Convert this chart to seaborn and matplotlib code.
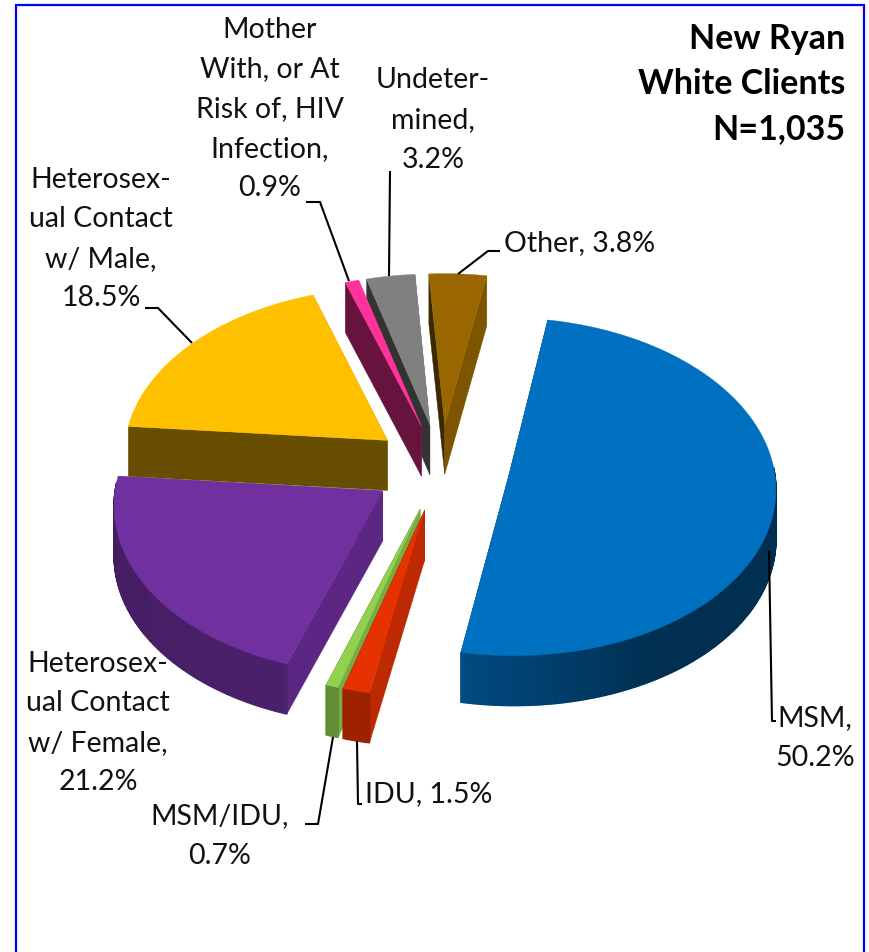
import numpy as np
import matplotlib
matplotlib.use('Agg')
import matplotlib.pyplot as plt
import seaborn as sns
from matplotlib.colors import to_rgb

# Values
categories = ['MSM', 'IDU', 'MSM/IDU', 'Heterosexual Contact w/ Female',
              'Heterosexual Contact w/ Male', 'Mother With, or At Risk of, HIV Infection',
              'Undetermined', 'Other']
percents = [50.2, 1.5, 0.7, 21.2, 18.5, 0.9, 3.2, 3.8]
label_text = ['MSM,\n50.2%', 'IDU, 1.5%', 'MSM/IDU,\n0.7%',
              'Heterosex-\nual Contact\nw/ Female,\n21.2%',
              'Heterosex-\nual Contact\nw/ Male,\n18.5%',
              'Mother\nWith, or At\nRisk of, HIV\nInfection,\n0.9%',
              'Undeter-\nmined,\n3.2%', 'Other, 3.8%']
title_text = 'New Ryan\nWhite Clients\nN=1,035'
colors = ['#0070C0', '#E63200', '#92D050', '#7030A0', '#FFC000', '#FF3399', '#808080', '#996600']

# Pie geometry (pixels)
first_angle = 10.0
cx, cy = 441, 468
rad_x, rad_y = 265, 167
persp = 0.07
explode = 0.26
depth = 50

# Label placement (x, y of the block centre, alignment)
label_pos = [(815, 738, 'center'), (365, 794, 'left'), (220, 836, 'center'),
             (98, 723, 'center'), (101, 239, 'center'), (270, 109, 'center'),
             (433, 120, 'center'), (504, 243, 'left')]
leaders = [[(769, 552), (772, 722), (776, 722)],
           [(357, 742), (358, 805), (362, 805)],
           [(333, 738), (318, 825), (305, 825)],
           None,
           [(192, 344), (158, 309), (145, 309)],
           [(349, 282), (320, 203), (306, 203)],
           [(389, 277), (390, 172)],
           [(458, 275), (488, 252), (500, 252)]]

sns.set_theme(style='white')
plt.rcParams['font.family'] = ['Lato', 'DejaVu Sans']


def project(x, y, z=0):
    f = 1 / (1 + persp * y)
    return cx + rad_x * x * f, cy - rad_y * y * f + depth * z


def shade(col, k):
    return tuple(c * k for c in to_rgb(col))


def rim_shade(t):
    # lighter toward the front left, dark on the right
    t = t % 360
    if t < 150:
        return 0.42
    if t < 192:
        return 0.42 + 0.26 * (t - 150) / 42
    return 0.68 - 0.08 * min(1, (t - 192) / 80)


fig = plt.figure(figsize=(8.7, 9.53), dpi=100)
ax = fig.add_axes([0, 0, 1, 1])
ax.set_xlim(0, 870)
ax.set_ylim(953, 0)
ax.axis('off')

bounds = first_angle + np.concatenate([[0], np.cumsum(percents)]) * 3.6
slices = []
for i, col in enumerate(colors):
    a0, a1 = bounds[i], bounds[i + 1]
    mid = np.radians((a0 + a1) / 2)
    ex, ey = explode * np.sin(mid), explode * np.cos(mid)
    slices.append((ey, a0, a1, ex, col))

# back slices first
for ey, a0, a1, ex, col in sorted(slices, key=lambda s: -s[0]):
    th = np.radians(np.linspace(a0, a1, max(int(a1 - a0) * 2, 4)))
    xs = ex + np.sin(th)
    ys = ey + np.cos(th)

    # straight walls, the one facing away goes down first
    walls = [(a0 - 90, xs[0], ys[0]), (a1 + 90, xs[-1], ys[-1])]
    walls.sort(key=lambda w: -np.cos(np.radians(w[0])))
    for normal, px, py in walls:
        k = 0.82 if np.sin(np.radians(normal)) > 0 else 0.4
        if np.cos(np.radians(normal)) < -0.9:
            k = 0.4
        quad = [project(ex, ey, 0), project(px, py, 0), project(px, py, 1), project(ex, ey, 1)]
        ax.fill(*zip(*quad), color=shade(col, k), lw=0.3)

    # outer rim, in thin strips so it can carry the gradient
    for j in range(len(th) - 1):
        if np.cos(th[j]) > 0.05:
            continue
        quad = [project(xs[j], ys[j], 0), project(xs[j + 1], ys[j + 1], 0),
                project(xs[j + 1], ys[j + 1], 1), project(xs[j], ys[j], 1)]
        ax.fill(*zip(*quad), color=shade(col, rim_shade(np.degrees(th[j]))), lw=1.0)

    # top face
    top = [project(ex, ey, 0)] + [project(x, y, 0) for x, y in zip(xs, ys)]
    ax.fill(*zip(*top), color=col, lw=0.3)

for line in leaders:
    if line:
        ax.plot(*zip(*line), color='black', lw=1.5, solid_capstyle='butt')

for txt, (x, y, ha) in zip(label_text, label_pos):
    ax.text(x, y, txt, ha=ha, va='center', fontsize=20.5, color='#111111', linespacing=1.65)

ax.text(845, 84, title_text, ha='right', va='center', fontsize=24.5, fontweight='bold',
        color='black', linespacing=1.49)

# frame is open at the bottom
ax.plot([16, 16, 864, 864], [953, 6, 6, 953], color='#0000FF', lw=1.6, solid_joinstyle='miter')

fig.savefig('out.png', dpi=100)
